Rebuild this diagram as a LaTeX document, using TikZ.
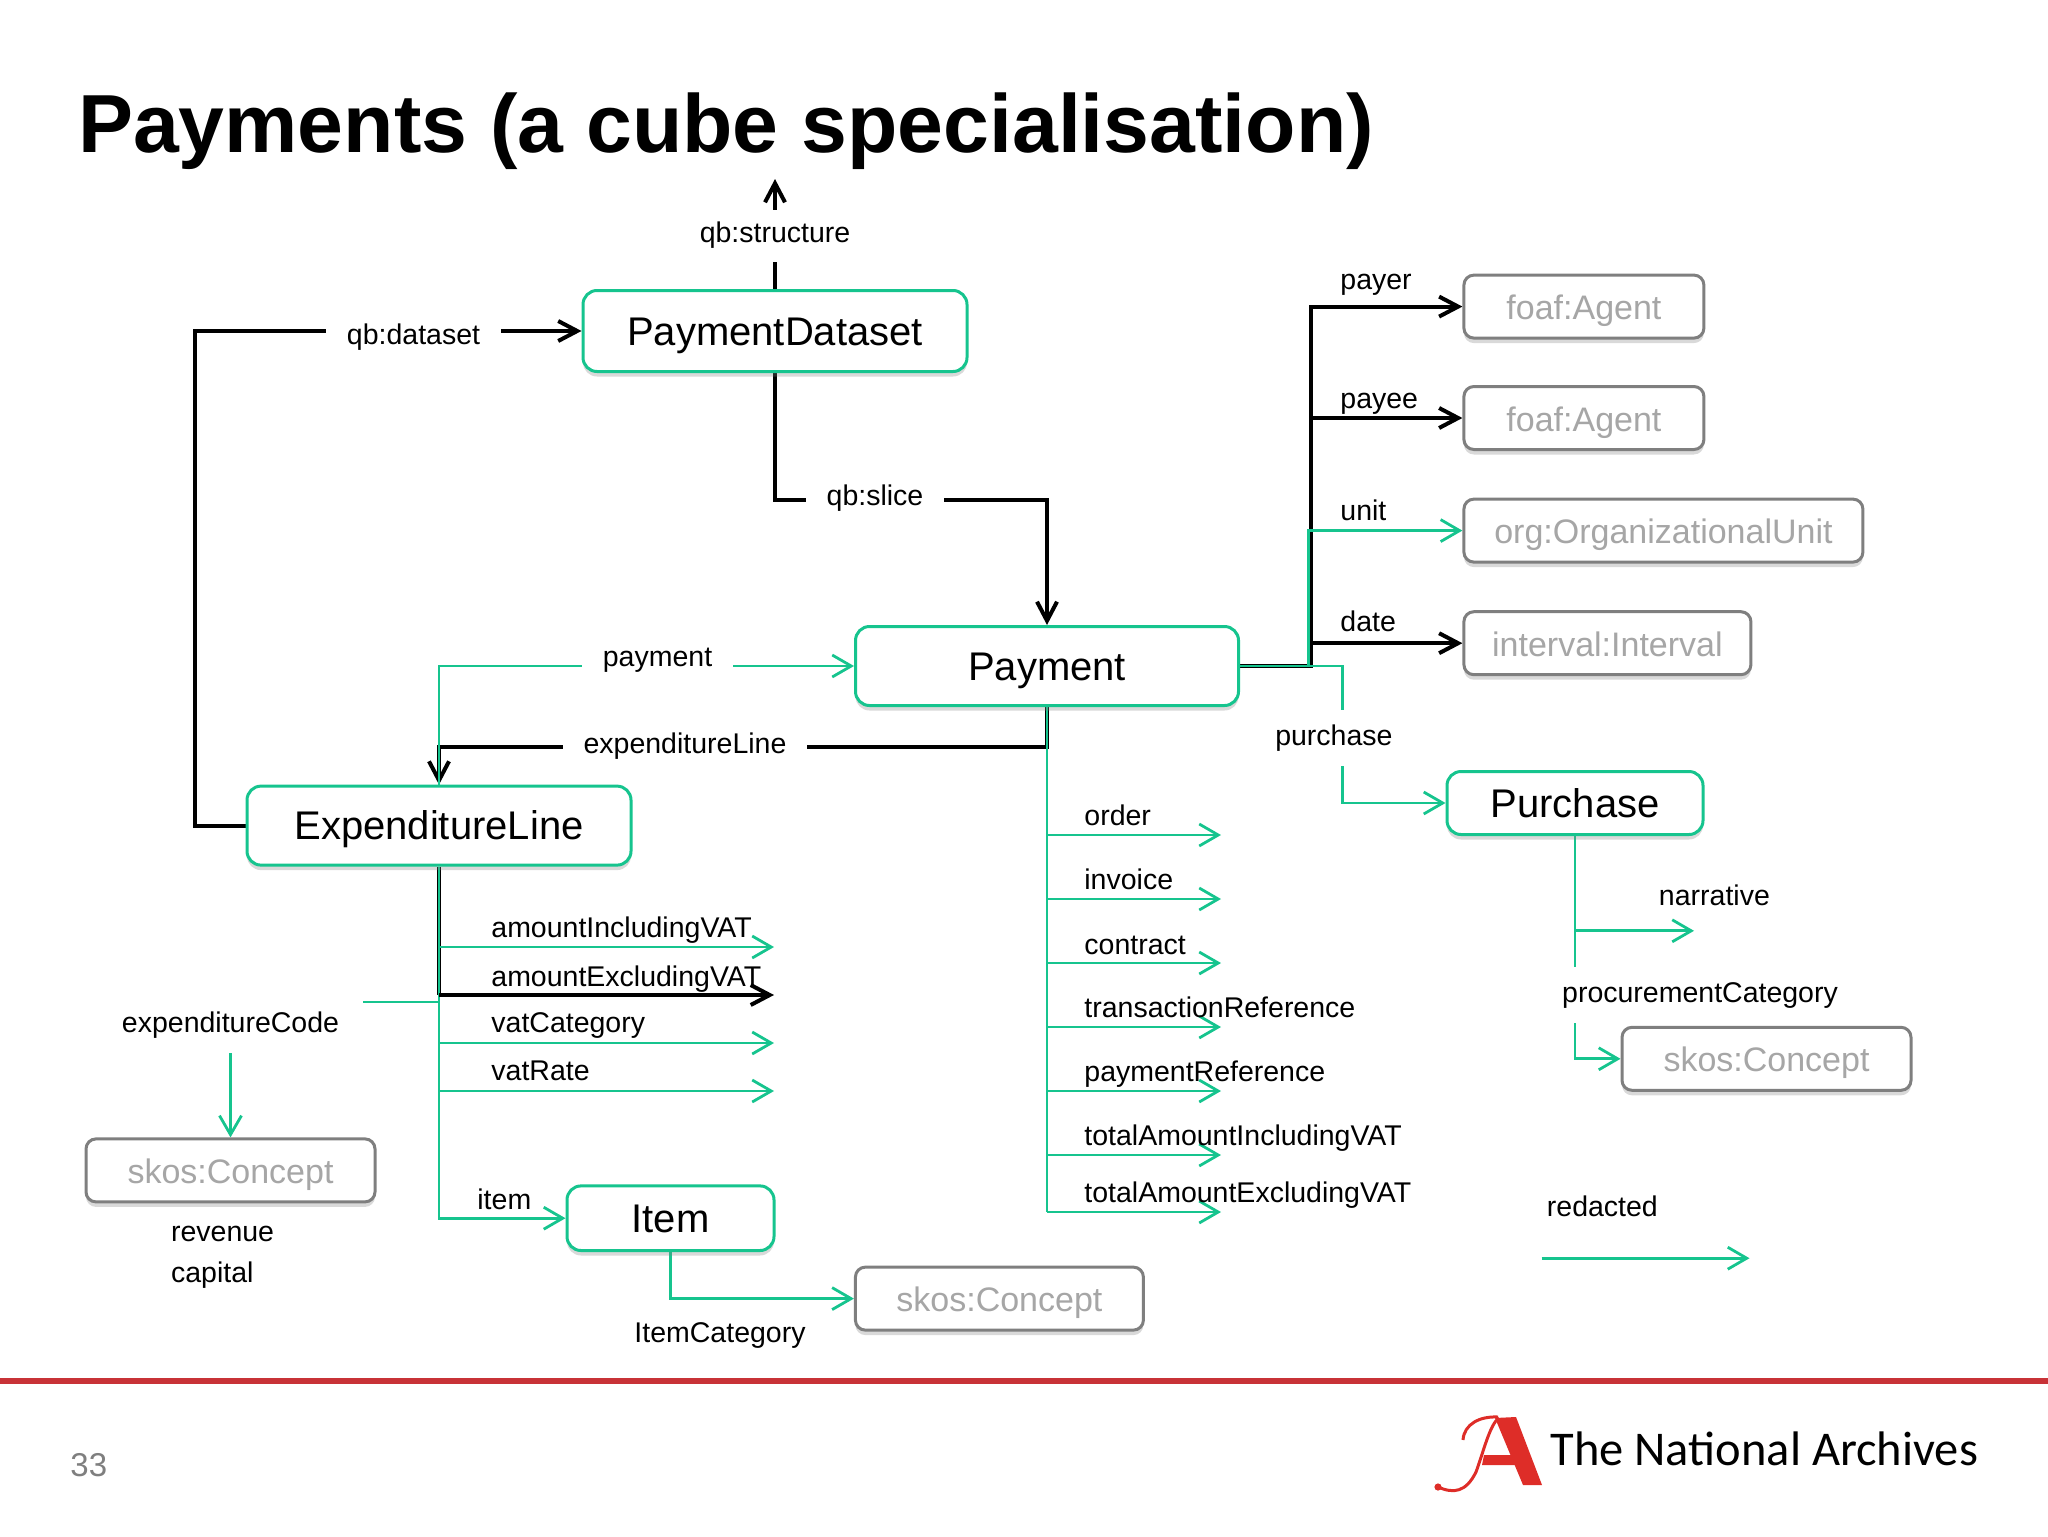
\documentclass[tikz,border=0pt]{standalone}
\usepackage{fontspec}
\setmainfont{Liberation Sans}
\newfontfamily\logofont{Carlito}
\usetikzlibrary{arrows.meta, positioning, shadows, backgrounds}
\definecolor{linkGreen}{RGB}{22, 196, 142}
\definecolor{objectGray}{RGB}{127, 127, 127}
\definecolor{objectText}{RGB}{166, 166, 166}
\definecolor{ruleRed}{RGB}{200, 50, 55}
\definecolor{logoRed}{RGB}{222, 45, 40}
\begin{document}
\begin{tikzpicture}[
    classbox/.style={
        rectangle, rounded corners=7pt, minimum width=#1, minimum height=39.5pt,
        font=\fontsize{20}{24}\selectfont, inner sep=0pt, text height=18pt, text depth=4pt,
        draw=linkGreen, fill=white, line width=1.5pt,
        drop shadow={shadow xshift=0pt, shadow yshift=-2.5pt, opacity=0.3}
    },
    objectbox/.style={
        rectangle, rounded corners=5pt, minimum width=#1, minimum height=31.5pt,
        font=\fontsize{17}{20}\selectfont, text=objectText, inner sep=0pt, text height=16pt, text depth=3pt,
        draw=objectGray, fill=white, line width=1.5pt,
        drop shadow={shadow xshift=0pt, shadow yshift=-2.5pt, opacity=0.3}
    },
    relation/.style={font=\fontsize{14.25}{16}\selectfont, inner sep=0pt, text height=10pt, text depth=3pt},
    gaptag/.style={relation, fill=white, inner xsep=10.5pt, minimum height=28pt},
    link/.style={line width=1.4pt, draw=linkGreen},
    arrow/.style={link, -{Straight Barb[length=9.5pt, width=11pt]}},
    heavy/.style={line width=2pt, draw=black},
    heavyarrow/.style={heavy, -{Straight Barb[length=9.5pt, width=10pt]}}
]
\useasboundingbox (0,0) rectangle (1024pt,-768pt);
\node[anchor=base west, font=\fontsize{41.2}{48}\selectfont\bfseries] (title) at (35.5pt,-76pt) {Payments (a cube specialisation)};
% classes
\node[classbox=192pt, minimum height=40.5pt] (dataset) at (387.5pt,-165.5pt) {PaymentDataset};
\node[classbox=191.5pt, below=126pt of dataset, xshift=136pt] (payment) {Payment};
\node[classbox=192pt, below=38.8pt of payment, xshift=-304pt] (expline) {ExpenditureLine};
\node[classbox=128pt, minimum height=31.5pt, below=31.5pt of payment, xshift=264pt] (purchase) {Purchase};
\node[classbox=103.5pt, minimum height=32.3pt, below=158.9pt of expline, xshift=115.75pt] (item) {Item};
% objects
\node[objectbox=143.5pt, right=111.2pt of payment, yshift=11.4pt] (interval) {interval:Interval};
\node[objectbox=199.5pt, above=23.3pt of interval.north west, anchor=south west] (orgunit) {org:OrganizationalUnit};
\node[objectbox=120pt, above=23.3pt of orgunit.north west, anchor=south west] (agentB) {foaf:Agent};
\node[objectbox=120pt, above=22.7pt of agentB] (agentA) {foaf:Agent};
\node[objectbox=144pt, right=39.2pt of item, yshift=-40.2pt] (skosItem) {skos:Concept};
\node[objectbox=144.5pt, below=135.4pt of expline, xshift=-104.25pt] (skosLeft) {skos:Concept};
\node[objectbox=144.5pt, below=94.9pt of purchase, xshift=95.75pt] (skosRight) {skos:Concept};
% labels that break a line
\node[gaptag, minimum height=26pt, above=13.5pt of dataset] (structureTag) {qb:structure};
\node[gaptag, left=40pt of dataset, yshift=-3pt] (datasetTag) {qb:dataset};
\node[gaptag, below=48.7pt of dataset, xshift=50pt] (sliceTag) {qb:slice};
\node[gaptag, left=60.2pt of payment, yshift=3.5pt] (paymentTag) {payment};
\node[gaptag, below=5.7pt of payment, xshift=-181pt] (expTag) {expenditureLine};
\node[gaptag, inner xsep=12pt, above=42pt of skosLeft] (codeTag) {expenditureCode};
\node[gaptag, left=15.8pt of purchase, yshift=32.5pt] (purchaseTag) {purchase};
\node[gaptag, below=65.3pt of purchase, xshift=62.5pt] (procureTag) {procurementCategory};
% labels on the object links
\node[relation, anchor=west] (payerTag) at (670pt,-141pt) {payer};
\node[relation, anchor=west] (payeeTag) at (670pt,-200.5pt) {payee};
\node[relation, anchor=west] (unitTag) at (670pt,-256.5pt) {unit};
\node[relation, anchor=west] (dateTag) at (670pt,-312pt) {date};
% labels on the payment branches
\node[relation, below right=48.9pt and 18.5pt of payment.south] (orderTag) {order};
\node[relation, below right=80.9pt and 18.5pt of payment.south] (invoiceTag) {invoice};
\node[relation, below right=113.4pt and 18.5pt of payment.south] (contractTag) {contract};
\node[relation, below right=144.9pt and 18.5pt of payment.south] (transactionTag) {transactionReference};
\node[relation, below right=176.9pt and 18.5pt of payment.south] (referenceTag) {paymentReference};
\node[relation, below right=208.9pt and 18.5pt of payment.south] (totalIncTag) {totalAmountIncludingVAT};
\node[relation, below right=237.6pt and 18.5pt of payment.south] (totalExcTag) {totalAmountExcludingVAT};
\coordinate[below right=64pt and 87pt of payment.south] (orderEnd);
\coordinate[below right=96pt and 87pt of payment.south] (invoiceEnd);
\coordinate[below right=128pt and 87pt of payment.south] (contractEnd);
\coordinate[below right=160pt and 87pt of payment.south] (transactionEnd);
\coordinate[below right=192pt and 87pt of payment.south] (referenceEnd);
\coordinate[below right=224pt and 87pt of payment.south] (totalIncEnd);
\coordinate[below right=252.5pt and 87pt of payment.south] (totalExcEnd);
% labels on the expenditure branches
\node[relation, below right=25.1pt and 26pt of expline.south] (amountIncTag) {amountIncludingVAT};
\node[relation, below right=49.6pt and 26pt of expline.south] (amountExcTag) {amountExcludingVAT};
\node[relation, below right=72.7pt and 26pt of expline.south] (vatCatTag) {vatCategory};
\node[relation, below right=96.7pt and 26pt of expline.south] (vatRateTag) {vatRate};
\node[relation, below right=161.4pt and 19pt of expline.south] (itemTag) {item};
\coordinate[below right=40.2pt and 167.5pt of expline.south] (amountIncEnd);
\coordinate[below right=64.2pt and 167.5pt of expline.south] (amountExcEnd);
\coordinate[below right=88.2pt and 167.5pt of expline.south] (vatCatEnd);
\coordinate[below right=112.2pt and 167.5pt of expline.south] (vatRateEnd);
% other labels
\node[relation, below=34.8pt of item, xshift=24.75pt] (itemCatTag) {ItemCategory};
\node[relation, below=8.6pt of skosLeft.south west, anchor=north west, xshift=43.1pt] (revenueTag) {revenue};
\node[relation, below=7.5pt of revenueTag.south west, anchor=north west] (capitalTag) {capital};
\node[relation, below=24.7pt of purchase, xshift=69.7pt] (narrativeTag) {narrative};
\node[relation, below=52.1pt of skosRight.south west, anchor=north west, xshift=-37pt] (redactedTag) {redacted};
% free ends
\coordinate[above=55pt of dataset.north] (structureEnd);
\coordinate[right=35.3pt of payment.east] (hubBlack);
\coordinate[right=34.3pt of payment.east] (hubGreen);
\coordinate[right=51.3pt of payment.east] (purchaseTurn);
\coordinate[above=11.5pt of codeTag.center] (codeTurn);
\coordinate[below right=47.4pt and 59.5pt of purchase.south] (narrativeEnd);
\coordinate[below=17.7pt of redactedTag.south west, xshift=-2.5pt] (redactedStart);
\coordinate[right=104pt of redactedStart] (redactedEnd);
\begin{scope}[on background layer]
    \draw[heavyarrow] (dataset.north) -- (structureEnd);
    \draw[heavyarrow] (expline.west) -- ++(-25.5pt,0) |- (dataset.west);
    \draw[heavyarrow] (dataset.south) |- ([yshift=-0.5pt]sliceTag.center) -| (payment.north);
    \draw[heavyarrow] (payment.south) |- (expTag.center) -| (expline.north);
    \draw[heavyarrow] (payment.east) -- (hubBlack) |- (agentA.west);
    \draw[heavyarrow] (hubBlack |- agentB.west) -- (agentB.west);
    \draw[heavyarrow] (hubBlack |- interval.west) -- (interval.west);
    \draw[line width=1.6pt] (expline.south) -- (expline.south |- amountExcEnd);
    \draw[arrow] (expline.north) |- (paymentTag.center |- payment.west) -- (payment.west);
    \draw[arrow] (payment.east) -- (hubGreen) |- (orgunit.west);
    \draw[arrow] (payment.east) -- (purchaseTurn) |- (purchase.west);
    \draw[arrow] (expline.south) |- (item.west);
    \draw[arrow] (item.south) |- (skosItem.west);
    \draw[arrow] (expline.south |- codeTurn) -- (codeTurn) -- (skosLeft.north);
    \draw[arrow] (purchase.south) |- (skosRight.west);
    \draw[arrow] (purchase.south |- narrativeEnd) -- (narrativeEnd);
    \draw[arrow] (redactedStart) -- (redactedEnd);
    \draw[arrow] (expline.south |- amountIncEnd) -- (amountIncEnd);
    \draw[heavyarrow] (expline.south |- amountExcEnd) -- (amountExcEnd);
    \draw[arrow] (expline.south |- vatCatEnd) -- (vatCatEnd);
    \draw[arrow] (expline.south |- vatRateEnd) -- (vatRateEnd);
    \draw[link] (payment.south) -- (payment.south |- totalExcEnd);
    \draw[arrow] (payment.south |- orderEnd) -- (orderEnd);
    \draw[arrow] (payment.south |- invoiceEnd) -- (invoiceEnd);
    \draw[arrow] (payment.south |- contractEnd) -- (contractEnd);
    \draw[arrow] (payment.south |- transactionEnd) -- (transactionEnd);
    \draw[arrow] (payment.south |- referenceEnd) -- (referenceEnd);
    \draw[arrow] (payment.south |- totalIncEnd) -- (totalIncEnd);
    \draw[arrow] (payment.south |- totalExcEnd) -- (totalExcEnd);
\end{scope}
% footer
\draw[line width=3pt, ruleRed] (0pt,-690.5pt) -- (1024pt,-690.5pt);
\node[anchor=base west, font=\fontsize{16.5}{20}\selectfont, text=objectGray] (pageNumber) at (31.7pt,-738pt) {33};
\fill[logoRed] (747.5pt,-709pt) -- (758pt,-708.5pt) -- (771pt,-742.5pt) -- (761.5pt,-742.5pt) -- cycle;
\fill[logoRed] (742pt,-727.5pt) -- (761.5pt,-727.5pt) -- (763.5pt,-732.5pt) -- (741pt,-732.5pt) -- cycle;
\draw[logoRed, line width=1.5pt] (749.5pt,-709pt) .. controls (745pt,-712pt) and (742pt,-725pt) .. (738pt,-736pt) .. controls (733pt,-746pt) and (727pt,-747pt) .. (719pt,-743.5pt);
\draw[logoRed, line width=1.5pt] (749pt,-708.5pt) .. controls (740pt,-708pt) and (732pt,-712pt) .. (731.5pt,-720pt);
\fill[logoRed] (719pt,-743.5pt) circle (1.8pt);
\node[anchor=base west, inner sep=0pt, font=\fontsize{24.25}{30}\selectfont\logofont] (logoText) at (775pt,-732.5pt) {The National Archives};
\end{tikzpicture}
\end{document}
